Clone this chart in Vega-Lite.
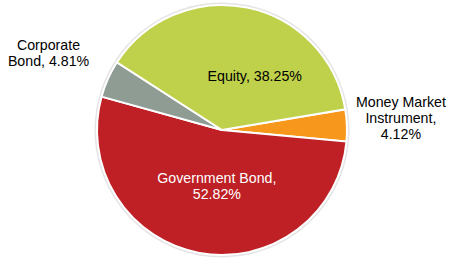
{
  "$schema": "https://vega.github.io/schema/vega-lite/v6.json",
  "width": 444,
  "height": 260,
  "padding": {"left": 0, "top": 0, "right": 5, "bottom": 0},
  "autosize": "none",
  "background": "white",
  "config": {
    "view": {"stroke": null},
    "text": {"font": "Liberation Sans", "fontSize": 14.2, "lineBreak": "\n", "lineHeight": 16}
  },
  "data": {
    "values": [
      {"category": "Money Market Instrument", "share": 4.12, "order": 1, "label": "Money Market\nInstrument,\n4.12%"},
      {"category": "Government Bond", "share": 52.82, "order": 2, "label": "Government Bond,\n52.82%"},
      {"category": "Corporate Bond", "share": 4.81, "order": 3, "label": "Corporate\nBond, 4.81%"},
      {"category": "Equity", "share": 38.25, "order": 4, "label": "Equity, 38.25%"}
    ]
  },
  "encoding": {
    "theta": {"field": "share", "type": "quantitative", "stack": true, "scale": {"range": [1.405, 7.688]}},
    "order": {"field": "order", "type": "quantitative"}
  },
  "layer": [
    {
      "mark": {"type": "arc", "outerRadius": 127.5, "fill": "#d9d9d9", "opacity": 0.7},
      "encoding": {}
    },
    {
      "mark": {"type": "arc", "outerRadius": 125, "stroke": "white", "strokeWidth": 2},
      "encoding": {
        "color": {
          "field": "category",
          "type": "nominal",
          "scale": {
            "domain": ["Money Market Instrument", "Government Bond", "Corporate Bond", "Equity"],
            "range": ["#F7981D", "#BE2025", "#8E9C94", "#BFD04B"]
          },
          "legend": null
        }
      }
    },
    {
      "mark": {"type": "text", "radius": 63, "dx": 20, "dy": 9, "fill": "black"},
      "encoding": {"text": {"condition": {"test": "datum.category === 'Equity'", "field": "label"}, "value": ""}}
    },
    {
      "mark": {"type": "text", "radius": 56, "dx": 5, "dy": -6, "fill": "white"},
      "encoding": {"text": {"condition": {"test": "datum.category === 'Government Bond'", "field": "label"}, "value": ""}}
    },
    {
      "mark": {"type": "text", "radius": 179, "dy": -20, "fill": "black"},
      "encoding": {"text": {"condition": {"test": "datum.category === 'Money Market Instrument'", "field": "label"}, "value": ""}}
    },
    {
      "mark": {"type": "text", "radius": 189, "dx": -1, "dy": -7, "fill": "black"},
      "encoding": {"text": {"condition": {"test": "datum.category === 'Corporate Bond'", "field": "label"}, "value": ""}}
    }
  ]
}
